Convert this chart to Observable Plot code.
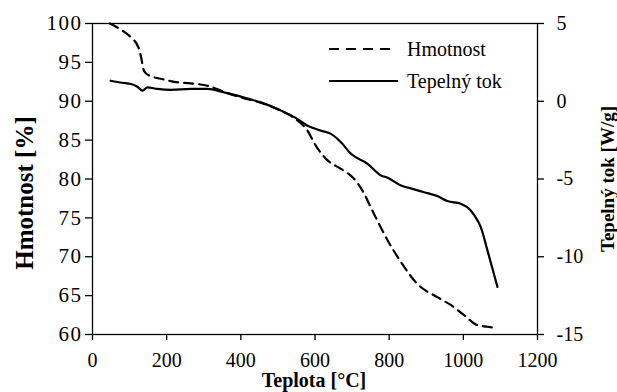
<!DOCTYPE html>
<html>
<head>
<meta charset="utf-8">
<script src="https://cdn.jsdelivr.net/npm/d3@7"></script>
<script src="https://cdn.jsdelivr.net/npm/@observablehq/plot@0.6"></script>
<style>
  html, body { margin: 0; padding: 0; background: #fff; }
  #wrap { position: relative; width: 617px; height: 392px; }
  #chart svg, #chart svg text { font-family: "Liberation Serif", "Times New Roman", "DejaVu Serif", serif !important; }
  #legend { position: absolute; left: 329px; top: 33px; font-family: "Liberation Serif", "Times New Roman", "DejaVu Serif", serif; font-size: 20px; color: #000; }
  #legend .row { display: flex; align-items: center; height: 32px; }
  #legend svg { display: block; margin-right: 8px; }
  .leftax text { letter-spacing: 1.5px; }
</style>
</head>
<body>
<div id="wrap">
  <div id="chart"></div>
  <div id="legend">
    <div class="row"><svg width="70" height="10"><line x1="0" y1="5" x2="63" y2="5" stroke="#000" stroke-width="2" stroke-dasharray="10,7"></line></svg><span>Hmotnost</span></div>
    <div class="row"><svg width="70" height="10"><line x1="0" y1="5" x2="69" y2="5" stroke="#000" stroke-width="2"></line></svg><span>Tepelný tok</span></div>
  </div>
</div>
<script>
// Hmotnost (mass, %) vs temperature
const massT = [47, 80, 104, 124, 130, 139, 153, 184, 220, 265, 310, 355, 400, 454, 508, 548, 580, 602, 634, 670, 706, 728, 755, 796, 832, 876, 930, 966, 1002, 1038, 1065, 1092];
const massV = [100, 99.1, 98.2, 96.9, 95.9, 93.9, 93.3, 92.9, 92.5, 92.3, 92.0, 91.2, 90.5, 89.8, 88.8, 87.7, 86.2, 84.3, 82.4, 81.3, 80.0, 78.5, 75.9, 72.1, 69.3, 66.5, 64.8, 63.8, 62.5, 61.2, 61.0, 60.8];
// Tepelný tok (heat flow, W/g) vs temperature
const flowT = [49, 80, 104, 120, 135, 148, 175, 211, 265, 310, 355, 391, 422, 454, 508, 548, 580, 616, 643, 670, 697, 742, 778, 796, 832, 858, 894, 930, 957, 993, 1020, 1038, 1047, 1065, 1092];
const flowV = [1.32, 1.19, 1.11, 0.95, 0.68, 0.89, 0.79, 0.73, 0.79, 0.79, 0.57, 0.36, 0.15, -0.07, -0.60, -1.07, -1.57, -1.89, -2.10, -2.64, -3.38, -4.02, -4.77, -4.92, -5.42, -5.60, -5.85, -6.10, -6.42, -6.59, -7.02, -7.66, -8.09, -9.59, -11.94];
// tick labels
const xTicks = [0, 200, 400, 600, 800, 1000, 1200];
const massTicks = [60, 65, 70, 75, 80, 85, 90, 95, 100];
const flowTicks = [-15, -10, -5, 0, 5];
const xTitle = "Teplota [°C]";
const yTitle = "Hmotnost [%]";
const y2Title = "Tepelný tok [W/g]";

// secondary axis maps onto primary scale: mass = 90 + 2*flow
const flowToMass = f => 90 + 2 * f;
const massToFlow = m => (m - 90) / 2;

const massData = massT.map((t, i) => ({t, v: massV[i]}));
const flowData = flowT.map((t, i) => ({t, v: flowV[i]}));

const font = '"Liberation Serif", "Times New Roman", "DejaVu Serif", serif';

const chart = Plot.plot({
  width: 617,
  height: 392,
  marginLeft: 92,
  marginRight: 80,
  marginTop: 23,
  marginBottom: 58,
  style: { fontFamily: font, fontSize: "20px", color: "#000", background: "#fff", overflow: "visible" },
  x: { domain: [0, 1200] },
  y: { domain: [60, 100] },
  marks: [
    Plot.frame({ stroke: "#000", strokeWidth: 1.3 }),
    Plot.axisX({ ticks: xTicks, tickSize: 6, tickPadding: 12, label: null, tickFormat: d => String(d), strokeWidth: 1.3, fontFamily: font }),
    Plot.axisY({ anchor: "left", ticks: massTicks, tickSize: 7, tickPadding: 3, label: null, tickFormat: d => String(d), strokeWidth: 1.3, fontSize: 21, fontFamily: font, className: "leftax" }),
    Plot.axisY({ anchor: "right", ticks: flowTicks.map(flowToMass), tickSize: 6, tickPadding: 13, label: null, textAnchor: "start", tickFormat: d => String(massToFlow(d)).replace("−", "-"), strokeWidth: 1.3, fontFamily: font }),
    Plot.line(massData, { x: "t", y: "v", stroke: "#000", strokeWidth: 2.2, strokeDasharray: "9,6", curve: "monotone-x" }),
    Plot.line(flowData, { x: "t", y: d => flowToMass(d.v), stroke: "#000", strokeWidth: 2.2, curve: "monotone-x" }),
    Plot.text([xTitle], { frameAnchor: "bottom", textAnchor: "middle", lineAnchor: "middle", dy: 46, dx: -1, text: d => d, fontWeight: "bold", fontSize: 20, fontFamily: font }),
    Plot.text([yTitle], { frameAnchor: "left", textAnchor: "middle", lineAnchor: "middle", dx: -68, dy: 14, rotate: -90, text: d => d, fontWeight: "bold", fontSize: 25, fontFamily: font }),
    Plot.text([y2Title], { frameAnchor: "right", textAnchor: "middle", lineAnchor: "middle", dx: 70, rotate: -90, text: d => d, fontWeight: "bold", fontSize: 19, fontFamily: font })
  ]
});
document.getElementById("chart").appendChild(chart);
</script>
</body>
</html>
